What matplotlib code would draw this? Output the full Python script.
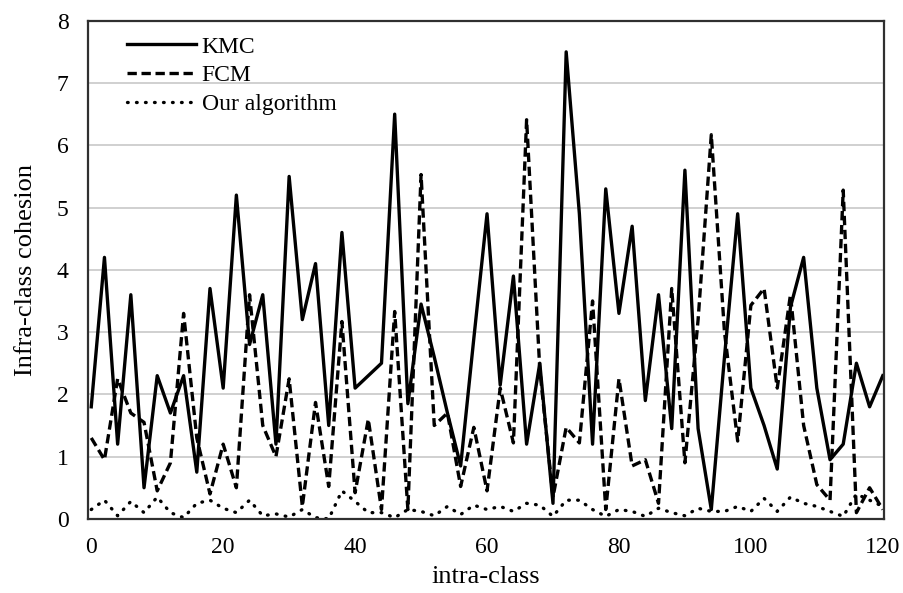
import numpy as np
import matplotlib.pyplot as plt

plt.rcParams['font.family'] = ['Liberation Serif', 'DejaVu Serif']

x = np.arange(0, 121, 2)

kmc = [1.8, 4.2, 1.2, 3.6, 0.5, 2.3, 1.7, 2.3, 0.75, 3.7,
       2.1, 5.2, 2.8, 3.6, 1.2, 5.5, 3.2, 4.1, 1.5, 4.6,
       2.1, 2.3, 2.5, 6.5, 1.85, 3.45, 2.6, 1.7, 0.85, 2.9,
       4.9, 2.15, 3.9, 1.2, 2.5, 0.25, 7.5, 4.9, 1.2, 5.3,
       3.3, 4.7, 1.9, 3.6, 1.45, 5.6, 1.45, 0.15, 2.6, 4.9,
       2.1, 1.5, 0.8, 3.4, 4.2, 2.1, 0.95, 1.2, 2.5, 1.8,
       2.3]

fcm = [1.3, 0.95, 2.25, 1.7, 1.55, 0.45, 0.9, 3.3, 1.3, 0.4,
       1.2, 0.5, 3.6, 1.5, 1.0, 2.25, 0.2, 1.87, 0.52, 3.17,
       0.42, 1.6, 0.15, 3.33, 0.15, 5.53, 1.5, 1.7, 0.52, 1.47,
       0.45, 2.1, 1.22, 6.41, 2.4, 0.35, 1.47, 1.22, 3.5, 0.15,
       2.25, 0.85, 0.95, 0.25, 3.7, 0.9, 3.2, 6.17, 3.0, 1.25,
       3.43, 3.7, 2.1, 3.6, 1.5, 0.55, 0.3, 5.28, 0.1, 0.5,
       0.15]

ours = [0.15, 0.3, 0.05, 0.28, 0.1, 0.35, 0.1, 0.02, 0.25, 0.3,
        0.17, 0.1, 0.3, 0.05, 0.08, 0.03, 0.15, 0.02, 0.0, 0.45,
        0.28, 0.1, 0.1, 0.02, 0.15, 0.12, 0.05, 0.2, 0.07, 0.22,
        0.15, 0.2, 0.12, 0.25, 0.22, 0.04, 0.3, 0.3, 0.15, 0.04,
        0.15, 0.12, 0.04, 0.17, 0.1, 0.05, 0.17, 0.12, 0.12, 0.2,
        0.12, 0.33, 0.12, 0.35, 0.25, 0.2, 0.12, 0.04, 0.4, 0.3,
        0.2]

fig = plt.figure(figsize=(9.04, 5.93), dpi=100)
ax = fig.add_axes([0.0973, 0.125, 0.8807, 0.84])

ax.plot(x, kmc, color='black', lw=2.4, ls='-', label='KMC')
ax.plot(x, fcm, color='black', lw=2.4, ls=(0, (2.8, 1.4)), label='FCM')
ax.plot(x, ours, color='black', lw=2.4, ls=(0, (0.2, 2.5)),
        dash_capstyle='round', label='Our algorithm')

ax.set_xlim(-0.5, 120.2)
ax.set_ylim(0, 8)
ax.set_xticks(range(0, 121, 20))
ax.set_yticks(range(0, 9))
ax.yaxis.grid(True, color='#c8c8c8', lw=1.2)
ax.set_axisbelow(True)
ax.tick_params(length=0, labelsize=17)
ax.tick_params(axis='x', pad=13)
ax.tick_params(axis='y', pad=14)
for s in ax.spines.values():
    s.set_color('#303030')
    s.set_linewidth(1.6)

ax.set_xlabel('intra-class', fontsize=19, labelpad=6)
ax.set_ylabel('Infra-class cohesion', fontsize=19, labelpad=14)

ax.legend(loc='upper left', bbox_to_anchor=(0.03, 1.0), frameon=False,
          fontsize=17, handlelength=2.9, handletextpad=0.25,
          labelspacing=0.3, borderaxespad=0.25)

fig.savefig('out.png', dpi=100)
